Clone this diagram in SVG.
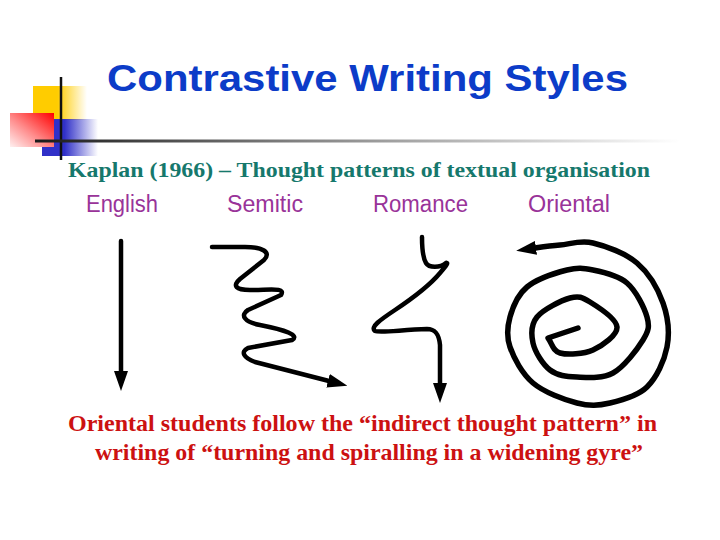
<svg xmlns="http://www.w3.org/2000/svg" width="720" height="540" viewBox="0 0 720 540">
  <style>
    .title { font-family: "Liberation Sans", Arial, sans-serif; font-weight: bold; font-size: 36px; fill: #0C3CC8; }
    .sub { font-family: "Liberation Serif", "Times New Roman", serif; font-weight: bold; font-size: 22px; fill: #16786C; }
    .lbl { font-family: "Liberation Sans", Arial, sans-serif; font-size: 23px; fill: #993399; }
    .note { font-family: "Liberation Serif", "Times New Roman", serif; font-weight: bold; font-size: 24px; fill: #CC1111; }
    .stroke { fill: none; stroke: #000; stroke-width: 4.5; stroke-linecap: round; stroke-linejoin: round; }
  </style>
  <defs>
    <linearGradient id="gYellow" x1="0" y1="0" x2="1" y2="0">
      <stop offset="0" stop-color="#FFCC00"/>
      <stop offset="0.45" stop-color="#FFCC00"/>
      <stop offset="1" stop-color="#FFCC00" stop-opacity="0"/>
    </linearGradient>
    <linearGradient id="gBlue" x1="0" y1="0" x2="1" y2="0">
      <stop offset="0" stop-color="#3030C8"/>
      <stop offset="0.4" stop-color="#3030C8"/>
      <stop offset="1" stop-color="#3030C8" stop-opacity="0"/>
    </linearGradient>
    <linearGradient id="gRed" x1="1" y1="0" x2="0" y2="1">
      <stop offset="0" stop-color="#FF0000"/>
      <stop offset="0.55" stop-color="#FF8A8A"/>
      <stop offset="1" stop-color="#FFF0F0"/>
    </linearGradient>
    <linearGradient id="gLine" gradientUnits="userSpaceOnUse" x1="35" y1="0" x2="680" y2="0">
      <stop offset="0" stop-color="#1A1A1A"/>
      <stop offset="0.4" stop-color="#808080"/>
      <stop offset="1" stop-color="#FFFFFF"/>
    </linearGradient>
    <marker id="arrow" markerUnits="userSpaceOnUse" markerWidth="20" markerHeight="14" viewBox="0 0 20 14" refX="1" refY="7" orient="auto">
      <path d="M0,0 L20,7 L0,14 z" fill="#000"/>
    </marker>
  </defs>

  <g id="decoration">
    <rect x="33" y="86" width="54" height="34" fill="url(#gYellow)"/>
    <rect x="42" y="119" width="56" height="37" fill="url(#gBlue)"/>
    <rect x="10" y="113" width="44" height="34" fill="url(#gRed)"/>
    <line x1="61" y1="77" x2="61" y2="160" stroke="#111" stroke-width="2.5"/>
    <rect x="35" y="139.5" width="645" height="3" fill="url(#gLine)"/>
  </g>

  <g id="title">
    <text class="title" x="107" y="91" textLength="521" lengthAdjust="spacingAndGlyphs">Contrastive Writing Styles</text>
  </g>

  <g id="subtitle">
    <text class="sub" x="68" y="177" textLength="582" lengthAdjust="spacingAndGlyphs">Kaplan (1966) – Thought patterns of textual organisation</text>
  </g>

  <g id="node-english">
    <text class="lbl" x="86" y="212" textLength="72" lengthAdjust="spacingAndGlyphs">English</text>
  </g>
  <g id="node-semitic">
    <text class="lbl" x="227" y="212" textLength="76" lengthAdjust="spacingAndGlyphs">Semitic</text>
  </g>
  <g id="node-romance">
    <text class="lbl" x="373" y="212" textLength="95" lengthAdjust="spacingAndGlyphs">Romance</text>
  </g>
  <g id="node-oriental">
    <text class="lbl" x="528" y="212" textLength="82" lengthAdjust="spacingAndGlyphs">Oriental</text>
  </g>

  <g id="connectors">
    <path id="english-pattern" class="stroke" d="M121 241 L121 372" marker-end="url(#arrow)"/>
    <path id="semitic-pattern" class="stroke" d="M212 247 L245 247 C262 247 272 252 264 260 L240 279 C232 286 236 290 250 290 C270 290 286 287 281 295 L248 310 C240 315 244 322 260 325 C285 330 300 335 292 340 L248 348 C240 352 244 358 255 362 L329 381" marker-end="url(#arrow)"/>
    <path id="romance-pattern" class="stroke" d="M422 237 C422 250 423 258 426 263 C429 268 440 268 446 263 C449 262 446 266 440 273 C430 285 410 300 395 310 C380 320 370 327 375 331 C380 333 400 330 427 329 C436 329 439 335 440 345 L440 384" marker-end="url(#arrow)"/>
    <path id="oriental-pattern" class="stroke" style="stroke-width:5.5" d="M578 328 L548 338 C552 343 552.5 351 560 353 S583.5 354.3 593 350 S617.5 335 617 327 S597.8 306.8 590 302 S578.8 295.5 570 298 S543 309.5 537 317 S531 334 533 343 S542.7 364.3 550 370 S566.5 376.5 577 377 S602 379 613 373 S637.3 349.3 643 340 S649.7 326.5 647 317 S636 290.8 627 283 S603 272 593 270 S578 267.2 567 270 S536.5 279.2 527 287 S512.8 307 510 317 S506.2 336 510 347 S522 373.7 533 383 S564.2 399.7 577 403 S598.3 405.7 610 403 S637.5 396.3 647 387 S664.3 361 667 347 S668 317 663 303 S648.7 273 637 263 S605.8 246 593 243 S570 244.2 560 245 S542 247 535 248" marker-end="url(#arrow)"/>
  </g>

  <g id="note">
    <text class="note" x="68" y="431" textLength="589" lengthAdjust="spacingAndGlyphs">Oriental students follow the “indirect thought pattern” in</text>
    <text class="note" x="95" y="460" textLength="548" lengthAdjust="spacingAndGlyphs">writing of “turning and spiralling in a widening gyre”</text>
  </g>
</svg>
